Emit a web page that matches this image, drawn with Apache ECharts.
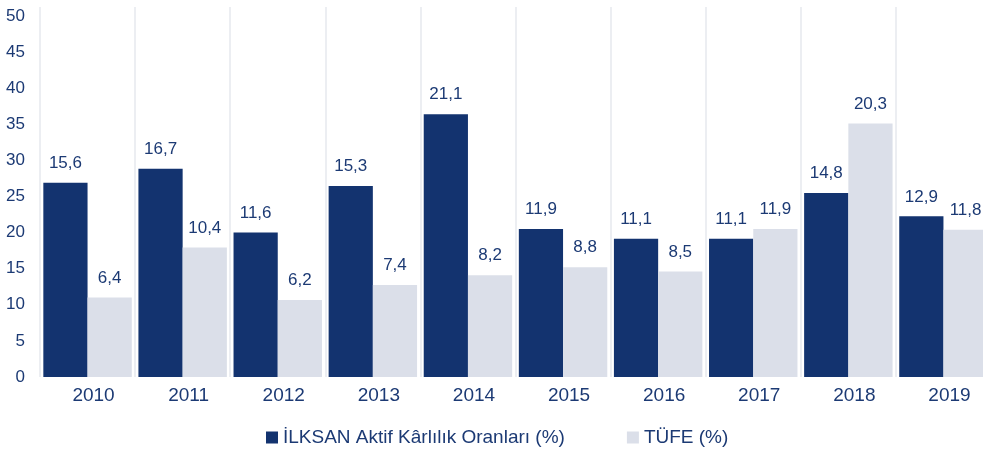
<!DOCTYPE html>
<html>
<head>
<meta charset="utf-8">
<script src="https://cdn.jsdelivr.net/npm/echarts@6/dist/echarts.min.js"></script>
<style>
  html, body { margin: 0; padding: 0; background: #fff; }
  #chart { width: 983px; height: 454px; }
</style>
</head>
<body>
<div id="chart"></div>
<script>
var years = ["2010", "2011", "2012", "2013", "2014", "2015", "2016", "2017", "2018", "2019"];
// bar heights as drawn on the axis
var ilksanBars = [26.9, 28.85, 20.0, 26.45, 36.4, 20.5, 19.15, 19.15, 25.5, 22.25];
var tufeBars = [11.0, 17.95, 10.65, 12.75, 14.1, 15.2, 14.6, 20.5, 35.1, 20.4];
// printed values above bars
var ilksanLabels = ["15,6", "16,7", "11,6", "15,3", "21,1", "11,9", "11,1", "11,1", "14,8", "12,9"];
var tufeLabels = ["6,4", "10,4", "6,2", "7,4", "8,2", "8,8", "8,5", "11,9", "20,3", "11,8"];

var textColor = "#1c3a74";
var font = "Liberation Sans, Arial, sans-serif";

var chart = echarts.init(document.getElementById("chart"));

var option = {
  animation: false,
  textStyle: { fontFamily: font },
  grid: { left: 40, top: 7, width: 951, bottom: 77, outerBoundsMode: "none" },
  legend: {
    bottom: 2,
    left: 261,
    icon: "rect",
    itemWidth: 12,
    itemHeight: 12,
    itemGap: 62,
    textStyle: { color: textColor, fontSize: 19, fontFamily: font }
  },
  xAxis: {
    type: "category",
    data: years,
    axisLine: { show: false },
    axisTick: { show: false },
    splitLine: { show: true, lineStyle: { color: "#eceef2", width: 2 } },
    axisLabel: { color: textColor, fontSize: 19, margin: 9, padding: [0, 0, 0, 12], fontFamily: font }
  },
  yAxis: {
    type: "value",
    min: 0,
    max: 51.25,
    interval: 5,
    splitLine: { show: false },
    axisLine: { show: false },
    axisTick: { show: false },
    axisLabel: { color: textColor, fontSize: 17, margin: 15, showMaxLabel: false, fontFamily: font }
  },
  series: [
    {
      name: "İLKSAN Aktif Kârlılık Oranları (%)",
      type: "bar",
      data: ilksanBars,
      barGap: "0%",
      barCategoryGap: "7%",
      itemStyle: { color: "#13336f" },
      label: {
        show: true,
        position: "top",
        distance: 11,
        color: textColor,
        fontSize: 17,
        fontFamily: font,
        formatter: function (p) { return ilksanLabels[p.dataIndex]; }
      }
    },
    {
      name: "TÜFE (%)",
      type: "bar",
      data: tufeBars,
      barGap: "0%",
      barCategoryGap: "7%",
      itemStyle: { color: "#dbdfe9" },
      label: {
        show: true,
        position: "top",
        distance: 11,
        color: textColor,
        fontSize: 17,
        fontFamily: font,
        formatter: function (p) { return tufeLabels[p.dataIndex]; }
      }
    }
  ]
};

chart.setOption(option);
</script>
</body>
</html>
